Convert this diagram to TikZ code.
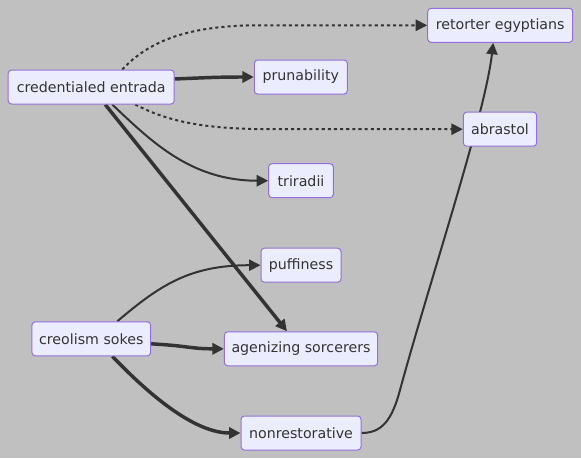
\documentclass[tikz,border=0pt]{standalone}
\usepackage{fontspec}
\setmainfont{DejaVu Sans}
\usetikzlibrary{arrows.meta,calc}
\definecolor{bgc}{HTML}{C0C0C0}
\definecolor{nfill}{HTML}{ECECFF}
\definecolor{nborder}{HTML}{9370DB}
\definecolor{ink}{HTML}{333333}
\pgfdeclarelayer{bglayer}
\pgfdeclarelayer{edgelayer}
\pgfsetlayers{bglayer,edgelayer,main}
\begin{document}
\begin{tikzpicture}[x=0.75pt,y=-0.75pt,
  box/.style={draw=nborder,fill=nfill,line width=0.75pt,rounded corners=2.5pt,
    minimum height=25.5pt,inner sep=0pt,text=ink,
    font=\fontsize{10.65pt}{12pt}\selectfont},
  edge/.style={draw=ink,line width=1.5pt,-{Triangle[length=8.6pt,width=8.4pt]}},
  thickedge/.style={edge,line width=2.6pt},
  dottededge/.style={edge,dash pattern=on 2.3pt off 2.3pt}]
\begin{pgfonlayer}{bglayer}
\fill[bgc] (0,0) rectangle (581,458);
\end{pgfonlayer}
\useasboundingbox (0,0) rectangle (581,458);

\node[box,minimum width=124.5pt] (cred) at (91.2,87) {credentialed entrada};
\node[box,minimum width=69.75pt] (prun) at (300.8,77) {prunability};
\node[box,minimum width=108.75pt] (ret) at (500.2,25.3) {retorter egyptians};
\node[box,minimum width=55pt] (abr) at (500,129.2) {abrastol};
\node[box,minimum width=48.5pt] (tri) at (301,180.7) {triradii};
\node[box,minimum width=60pt] (puf) at (301,265.2) {puffiness};
\node[box,minimum width=89pt] (creo) at (91.3,338.8) {creolism sokes};
\node[box,minimum width=115pt] (agen) at (301,348.8) {agenizing sorcerers};
\node[box,minimum width=90pt] (nonr) at (301,433) {nonrestorative};

\begin{pgfonlayer}{edgelayer}
\draw[dottededge] ($(cred.north)+(31,0)$) .. controls (150,40) and (190,25.3) .. (260,25.3) -- (ret.west);
\draw[thickedge] ($(cred.east)+(0,-8)$) .. controls (210,77.5) and (220,77) .. (prun.west);
\draw[dottededge] ($(cred.south)+(44,0)$) .. controls (165,120) and (200,129.2) .. (270,129.2) -- (abr.west);
\draw[edge] ($(cred.south)+(21,0)$) .. controls (150,140) and (190,180.7) .. (tri.west);
\draw[thickedge] ($(cred.south)+(14,0)$) -- ($(agen.north)+(-14,0)$);
\draw[edge] ($(creo.north)+(26,0)$) .. controls (160,285) and (190,265.2) .. (puf.west);
\draw[thickedge] ($(creo.east)+(0,5)$) .. controls (190,346) and (190,348.8) .. (agen.west);
\draw[thickedge] ($(creo.south)+(21,0)$) .. controls (140,385) and (190,433) .. (nonr.west);
\draw[edge] (nonr.east) .. controls (382,433) and (392,420) .. (400,390)
   .. controls (430,280) and (485,115) .. ($(ret.south)+(-7,0)$);
\end{pgfonlayer}
\end{tikzpicture}
\end{document}
